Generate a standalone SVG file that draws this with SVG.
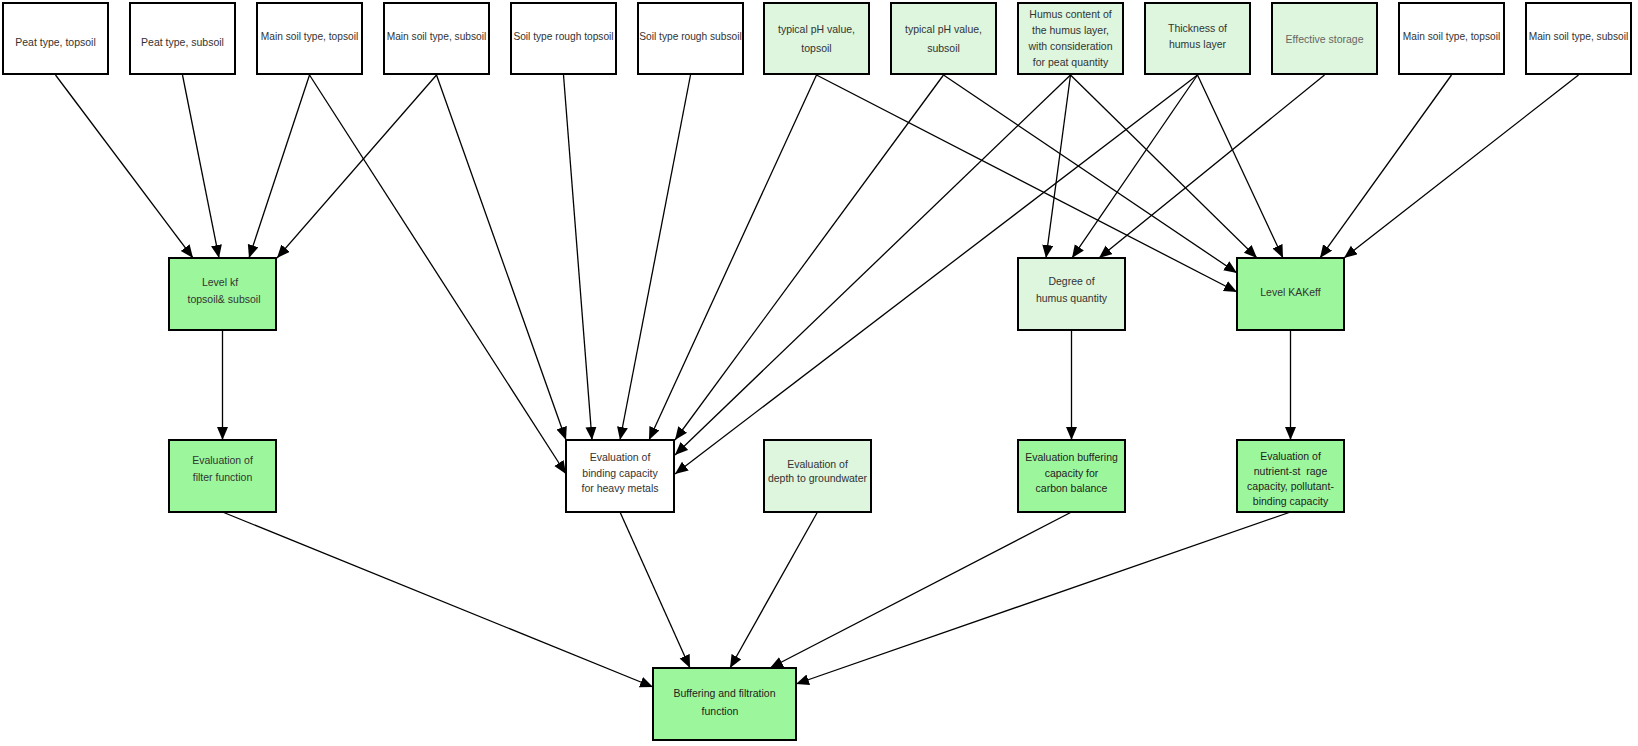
<svg xmlns="http://www.w3.org/2000/svg" width="1638" height="746" viewBox="0 0 1638 746">
<style>
.b{stroke:#000;stroke-width:2}
.w{fill:#fff}
.l{fill:#ddf6dd}
.g{fill:#9cf79c}
text{font-family:"Liberation Sans",Arial,sans-serif;font-size:10.5px;fill:#333;text-anchor:middle;white-space:pre}
.s{font-size:10.2px}
.gray{fill:#666}
.dk{fill:#222}
.c line{stroke:#000;stroke-width:1.3;marker-end:url(#ah)}
</style>
<defs>
<marker id="ah" markerUnits="userSpaceOnUse" markerWidth="14" markerHeight="12" refX="13" refY="5.5" orient="auto">
<path d="M0,0 L13,5.5 L0,11 z" fill="#000"/>
</marker>
</defs>
<rect width="1638" height="746" fill="#fff"/>
<g class="c">
<line x1="55.5" y1="75" x2="193" y2="258"/>
<line x1="182.5" y1="75" x2="219" y2="258"/>
<line x1="309.5" y1="75" x2="249" y2="258"/>
<line x1="436.5" y1="75" x2="277" y2="258"/>
<line x1="309.5" y1="75" x2="566" y2="474"/>
<line x1="436.5" y1="75" x2="566" y2="440"/>
<line x1="563.5" y1="75" x2="592" y2="440"/>
<line x1="690.5" y1="75" x2="620" y2="440"/>
<line x1="816.5" y1="75" x2="649" y2="440"/>
<line x1="943.5" y1="75" x2="675" y2="440"/>
<line x1="1070.5" y1="75" x2="675" y2="455"/>
<line x1="1197.5" y1="75" x2="675" y2="474"/>
<line x1="816.5" y1="75" x2="1237" y2="292"/>
<line x1="943.5" y1="75" x2="1237" y2="273"/>
<line x1="1070.5" y1="75" x2="1257" y2="258"/>
<line x1="1197.5" y1="75" x2="1283" y2="258"/>
<line x1="1451.5" y1="75" x2="1320" y2="258"/>
<line x1="1578.5" y1="75" x2="1344" y2="258"/>
<line x1="1070.5" y1="75" x2="1046" y2="258"/>
<line x1="1197.5" y1="75" x2="1072" y2="258"/>
<line x1="1324.5" y1="75" x2="1099" y2="258"/>
<line x1="222.5" y1="330" x2="222.5" y2="440"/>
<line x1="1071.5" y1="330" x2="1071.5" y2="440"/>
<line x1="1290.5" y1="330" x2="1290.5" y2="440"/>
<line x1="222.5" y1="512" x2="653" y2="687"/>
<line x1="620" y1="512" x2="690" y2="668"/>
<line x1="817.5" y1="512" x2="730" y2="668"/>
<line x1="1071.5" y1="512" x2="770" y2="668"/>
<line x1="1290.5" y1="512" x2="796" y2="684"/>
</g>
<g id="n1"><rect class="b w" x="3" y="3" width="105" height="71"/><text x="55.5" y="46">Peat type, topsoil</text></g>
<g id="n2"><rect class="b w" x="130" y="3" width="105" height="71"/><text x="182.5" y="46">Peat type, subsoil</text></g>
<g id="n3"><rect class="b w" x="257" y="3" width="105" height="71"/><text class="s" x="309.5" y="40">Main soil type, topsoil</text></g>
<g id="n4"><rect class="b w" x="384" y="3" width="105" height="71"/><text class="s" x="436.5" y="40">Main soil type, subsoil</text></g>
<g id="n5"><rect class="b w" x="511" y="3" width="105" height="71"/><text class="s" x="563.5" y="40">Soil type rough topsoil</text></g>
<g id="n6"><rect class="b w" x="638" y="3" width="105" height="71"/><text class="s" x="690.5" y="40">Soil type rough subsoil</text></g>
<g id="n7"><rect class="b l" x="764" y="3" width="105" height="71"/><text x="816.5" y="33">typical pH value,</text><text x="816.5" y="52">topsoil</text></g>
<g id="n8"><rect class="b l" x="891" y="3" width="105" height="71"/><text x="943.5" y="33">typical pH value,</text><text x="943.5" y="52">subsoil</text></g>
<g id="n9"><rect class="b l" x="1018" y="3" width="105" height="71"/><text x="1070.5" y="18">Humus content of</text><text x="1070.5" y="34">the humus layer,</text><text x="1070.5" y="50">with consideration</text><text x="1070.5" y="66">for peat quantity</text></g>
<g id="n10"><rect class="b l" x="1145" y="3" width="105" height="71"/><text x="1197.5" y="32">Thickness of</text><text x="1197.5" y="48">humus layer</text></g>
<g id="n11"><rect class="b l" x="1272" y="3" width="105" height="71"/><text class="gray" x="1324.5" y="43">Effective storage</text></g>
<g id="n12"><rect class="b w" x="1399" y="3" width="105" height="71"/><text class="s" x="1451.5" y="40">Main soil type, topsoil</text></g>
<g id="n13"><rect class="b w" x="1526" y="3" width="105" height="71"/><text class="s" x="1578.5" y="40">Main soil type, subsoil</text></g>
<g id="n14"><rect class="b g" x="169" y="258" width="107" height="72"/><text x="220" y="286">Level kf</text><text x="224" y="303">topsoil&amp; subsoil</text></g>
<g id="n15"><rect class="b l" x="1018" y="258" width="107" height="72"/><text x="1071.5" y="285">Degree of</text><text x="1071.5" y="302">humus quantity</text></g>
<g id="n16"><rect class="b g" x="1237" y="258" width="107" height="72"/><text x="1290.5" y="296">Level KAKeff</text></g>
<g id="n17"><rect class="b g" x="169" y="440" width="107" height="72"/><text x="222.5" y="464">Evaluation of</text><text x="222.5" y="481">filter function</text></g>
<g id="n18"><rect class="b w" x="566" y="440" width="108" height="72"/><text x="620" y="461">Evaluation of</text><text x="620" y="477">binding capacity</text><text x="620" y="492">for heavy metals</text></g>
<g id="n19"><rect class="b l" x="764" y="440" width="107" height="72"/><text x="817.5" y="468">Evaluation of</text><text x="817.5" y="482">depth to groundwater</text></g>
<g id="n20"><rect class="b g" x="1018" y="440" width="107" height="72"/><text class="dk" x="1071.5" y="461">Evaluation buffering</text><text class="dk" x="1071.5" y="477">capacity for</text><text class="dk" x="1071.5" y="492">carbon balance</text></g>
<g id="n21"><rect class="b g" x="1237" y="440" width="107" height="72"/><text class="dk" x="1290.5" y="460">Evaluation of</text><text class="dk" x="1290.5" y="475">nutrient-st  rage</text><text class="dk" x="1290.5" y="490">capacity, pollutant-</text><text class="dk" x="1290.5" y="505">binding capacity</text></g>
<g id="n22"><rect class="b g" x="653" y="668" width="143" height="72"/><text class="dk" x="724.5" y="697">Buffering and filtration</text><text class="dk" x="720" y="715">function</text></g>
</svg>
